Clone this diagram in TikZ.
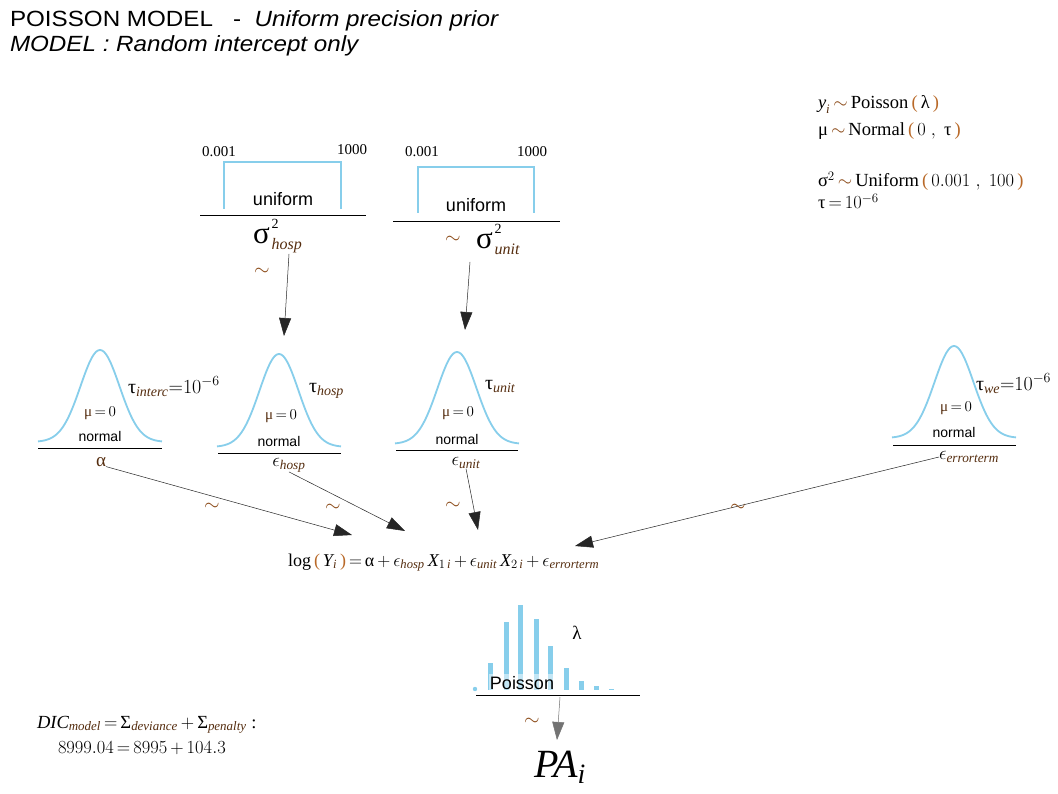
\RequirePackage{fix-cm}
\documentclass[tikz,border=0pt]{standalone}
\usepackage{amsmath}
\usepackage{fontspec}
\setmainfont{Liberation Serif}
\setsansfont{Liberation Sans}
\usetikzlibrary{arrows.meta}

\definecolor{distblue}{RGB}{135,206,235}
\definecolor{subc}{RGB}{85,45,15}
\definecolor{parc}{RGB}{185,105,40}
\definecolor{tildec}{RGB}{140,75,25}

\newcommand{\setfs}[1]{\fontsize{#1}{#1}\selectfont}
\newcommand{\sbt}[1]{\textcolor{subc}{\textit{#1}}}
\newcommand{\lpar}{\textcolor{parc}{\text{(}}}
\newcommand{\rpar}{\textcolor{parc}{\text{)}}}
\newcommand{\tld}{\mathord{\textcolor{tildec}{\sim}}}
% sigma squared with stacked superscript and subscript
\newcommand{\sigsq}[1]{\setfs{31}σ\hspace{2pt}\makebox[0pt][l]{\raisebox{15pt}{\setfs{14}2}}\raisebox{-6pt}{\setfs{16}\textcolor{subc}{\itshape #1}}}
% Gaussian density outline: centre x, baseline y, height
\newcommand{\bellcurve}[3]{\draw[distline] plot[domain=-62:62,samples=81,smooth] ({#1+(\x)},{#2-#3*exp(-0.5*(\x/19.5)*(\x/19.5))});}

\tikzset{
  txt/.style={inner sep=0pt, outer sep=0pt},
  distline/.style={draw=distblue, line width=1.8pt},
  rangebox/.style={draw=distblue, line width=2.2pt},
  baseline rule/.style={draw=black, line width=0.8pt},
  edge/.style={draw=black!85, line width=0.5pt, -{Triangle[length=18pt,width=12pt]}},
  tildemark/.style={txt, text=tildec, font=\setfs{20}},
  summary/.style={txt, anchor=base west, font=\setfs{18.5}},
}

\begin{document}
\begin{tikzpicture}[x=1pt,y=-1pt]
\fill[white] (0,0) rectangle (1058,794);
\useasboundingbox (0,0) rectangle (1058,794);

% ---- heading ----
\node[txt, anchor=base west, font=\sffamily\setfs{22}] (title1) at (10,27)
  {\scalebox{1.1}[1]{POISSON MODEL\ \ \ -\ \ \textit{Uniform precision prior}}};
\node[txt, anchor=base west, font=\sffamily\itshape\setfs{22}] (title2) at (10,52)
  {\scalebox{1.1}[1]{MODEL : Random intercept only}};

% ---- model summary ----
\node[summary] (m1) at (818,109)
  {$\textit{y}_{\sbt{i}}\,\tld\,\text{Poisson}\,\lpar\,\text{λ}\,\rpar$};
\node[summary] (m2) at (818,136)
  {$\text{μ}\,\tld\,\text{Normal}\,\lpar\,0\;,\;\text{τ}\,\rpar$};
\node[summary] (m3) at (818,187)
  {$\text{σ}^{2}\,\tld\,\text{Uniform}\,\lpar\,0.001\;,\;100\,\rpar$};
\node[summary] (m4) at (818,209)
  {$\text{τ}\,{=}\,10^{-6}$};

% ---- uniform prior for sigma^2_hosp ----
\draw[rangebox] (224,209) -- (224,162) -- (341,162) -- (341,209);
\node[txt, font=\setfs{15}] (lo1) at (219,152) {0.001};
\node[txt, font=\setfs{15}] (hi1) at (352,150) {1000};
\node[txt, anchor=base, font=\sffamily\setfs{18}] (u1) at (283,206) {uniform};
\draw[baseline rule] (200,215) -- (366,215);
\node[txt, anchor=base west] (shosp) at (253,244) {\sigsq{hosp}};
\node[tildemark] (t1) at (262,272) {$\sim$};

% ---- uniform prior for sigma^2_unit ----
\draw[rangebox] (418,213) -- (418,167) -- (534,167) -- (534,213);
\node[txt, font=\setfs{15}] (lo2) at (422,152) {0.001};
\node[txt, font=\setfs{15}] (hi2) at (532,152) {1000};
\node[txt, anchor=base, font=\sffamily\setfs{18}] (u2) at (476,212) {uniform};
\draw[baseline rule] (393,221) -- (560,221);
\node[tildemark] (t2) at (453,240) {$\sim$};
\node[txt, anchor=base west] (sunit) at (476,249) {\sigsq{unit}};

% ---- normal priors ----
\bellcurve{100}{442}{92}
\bellcurve{279}{447}{93}
\bellcurve{457}{444}{92}
\bellcurve{954}{438}{92}
\draw[baseline rule] (38,448) -- (162,448);
\draw[baseline rule] (218,453) -- (341,453);
\draw[baseline rule] (396,450) -- (518,450);
\draw[baseline rule] (893,445) -- (1016,445);

\node[txt, anchor=base, font=\setfs{15}] (mu1) at (100,417) {$\textcolor{subc}{\text{μ}}\,{=}\,0$};
\node[txt, anchor=base, font=\setfs{15}] (mu2) at (281,419) {$\textcolor{subc}{\text{μ}}\,{=}\,0$};
\node[txt, anchor=base, font=\setfs{15}] (mu3) at (458,417) {$\textcolor{subc}{\text{μ}}\,{=}\,0$};
\node[txt, anchor=base, font=\setfs{15}] (mu4) at (956,411) {$\textcolor{subc}{\text{μ}}\,{=}\,0$};

\node[txt, anchor=base, font=\sffamily\setfs{14}] (n1) at (100,441) {normal};
\node[txt, anchor=base, font=\sffamily\setfs{14}] (n2) at (279,446) {normal};
\node[txt, anchor=base, font=\sffamily\setfs{14}] (n3) at (457,444) {normal};
\node[txt, anchor=base, font=\sffamily\setfs{14}] (n4) at (954,437) {normal};

\node[txt, anchor=base west, font=\setfs{20}] (tau1) at (128,393) {$\text{τ}_{\sbt{interc}}{=}10^{-6}$};
\node[txt, anchor=base west, font=\setfs{20}] (tau2) at (309,392) {$\text{τ}_{\sbt{hosp}}$};
\node[txt, anchor=base west, font=\setfs{20}] (tau3) at (485,389) {$\text{τ}_{\sbt{unit}}$};
\node[txt, anchor=base west, font=\setfs{20}] (tau4) at (976,390) {$\text{τ}_{\sbt{we}}{=}10^{-6}$};

\node[txt, font=\setfs{19}] (alpha) at (101,462) {$\textcolor{subc}{\text{α}}$};
\node[txt, font=\setfs{19}] (chosp) at (289,465) {$\epsilon_{\sbt{hosp}}$};
\node[txt, font=\setfs{19}] (cunit) at (466,463) {$\epsilon_{\sbt{unit}}$};
\node[txt, font=\setfs{19}] (cerr) at (969,457) {$\epsilon_{\sbt{errorterm}}$};

% ---- linear predictor ----
\node[txt, anchor=base west, font=\setfs{18}] (eq) at (288,566)
  {$\text{log}\,\lpar\,\textit{Y}_{\sbt{i}}\,\rpar\,{=}\,\text{α}\,{+}\,\epsilon_{\sbt{hosp}}\,\textit{X}_{1\,\sbt{i}}\,{+}\,\epsilon_{\sbt{unit}}\,\textit{X}_{2\,\sbt{i}}\,{+}\,\epsilon_{\sbt{errorterm}}$};

% ---- Poisson likelihood ----
\fill[distblue] (475,689) circle (2.2);
\foreach \bx/\bt in {490/663, 506/622, 520/605, 536/619, 550/646, 566/668, 581/681, 596/686, 611/689}
  \fill[distblue] (\bx-2.5,690) rectangle (\bx+2.5,\bt);
\node[txt, anchor=base, fill=white, fill opacity=0.5, text opacity=1, inner xsep=1pt, inner ysep=2pt, font=\sffamily\setfs{18}] (pois) at (522,689) {Poisson};
\draw[baseline rule] (476,695) -- (640,695);
\node[txt, font=\setfs{19}] (lam) at (577,633) {λ};
\node[txt, font=\itshape\setfs{40}] (pa) at (560,767) {$\textit{PA}_{\textit{i}}$};
\node[tildemark] (t7) at (532,722) {$\sim$};

% ---- DIC ----
\node[txt, anchor=base west, font=\setfs{18.5}] (dic1) at (37,728)
  {$\textit{DIC}_{\sbt{model}}\,{=}\,\text{Σ}_{\sbt{deviance}}\,{+}\,\text{Σ}_{\sbt{penalty}}\ \text{:}$};
\node[txt, anchor=base west, font=\setfs{18.5}] (dic2) at (58,753)
  {$8999.04\,{=}\,8995\,{+}\,104.3$};

% ---- connector end points ----
\coordinate (shOut) at (289,254);
\coordinate (shIn) at (284,336);
\coordinate (suOut) at (470,262);
\coordinate (suIn) at (465,330);
\coordinate (eqA) at (352,535);
\coordinate (eqH) at (405,531);
\coordinate (eqU) at (478,530);
\coordinate (eqE) at (575,546);
\coordinate (poisOut) at (560,697);
\coordinate (paIn) at (557,740);

\draw[edge] (shOut) -- (shIn);
\draw[edge] (suOut) -- (suIn);
\draw[edge] (alpha.south east) -- (eqA);
\draw[edge] (chosp.south) -- (eqH);
\draw[edge] (cunit.south) -- (eqU);
\draw[edge] (cerr.west) -- (eqE);
\draw[edge, draw=black!55] (poisOut) -- (paIn);

% tildes on the stochastic links
\node[tildemark] (t3) at (212,507) {$\sim$};
\node[tildemark] (t4) at (333,508) {$\sim$};
\node[tildemark] (t5) at (453,506) {$\sim$};
\node[tildemark] (t6) at (738,508) {$\sim$};
\end{tikzpicture}
\end{document}
